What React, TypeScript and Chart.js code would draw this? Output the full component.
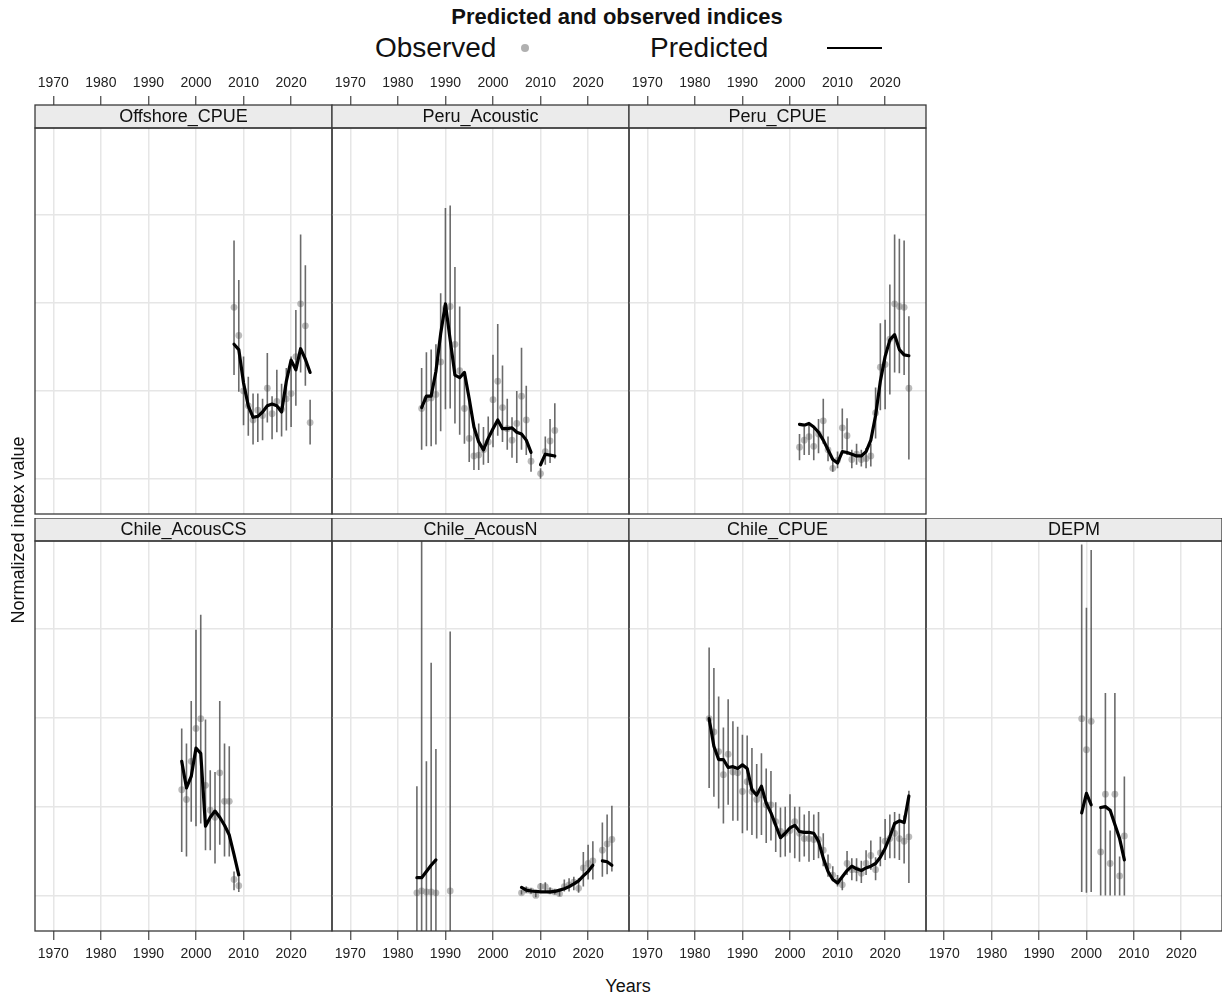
import React, { useEffect, useRef } from "react";
import { Chart, registerables } from "chart.js";

Chart.register(...registerables);

const FONT = "'Liberation Sans', Arial, Helvetica, sans-serif";

const X_MIN = 1966.15;
const X_MAX = 2028.6;
const Y_MIN = -0.4;
const Y_MAX = 3.99;
const X_TICK_STEP = 10;
const Y_GRID_STEP = 1;

// ---------- Offshore_CPUE ----------
const offshoreYears = [2008, 2009, 2010, 2011, 2012, 2013, 2014, 2015, 2016, 2017, 2018, 2019, 2020, 2021, 2022, 2023, 2024];
const offshoreObs = [1.95, 1.63, 1.0, 0.83, 0.67, 0.78, 0.72, 1.03, 0.74, 0.88, 0.79, 0.91, 0.97, 1.39, 1.99, 1.74, 0.64];
const offshoreLo = [1.18, 0.99, 0.61, 0.49, 0.39, 0.42, 0.44, 0.64, 0.45, 0.53, 0.48, 0.55, 0.59, 0.83, 1.21, 1.06, 0.39];
const offshoreHi = [2.71, 2.26, 1.39, 1.16, 0.97, 0.97, 0.91, 1.43, 0.94, 1.24, 1.08, 1.26, 1.39, 1.92, 2.78, 2.43, 0.9];
const offshorePredYears = offshoreYears;
const offshorePred = [1.53, 1.47, 1.09, 0.83, 0.7, 0.71, 0.76, 0.83, 0.85, 0.83, 0.76, 1.11, 1.35, 1.24, 1.48, 1.36, 1.21];

// ---------- Peru_Acoustic ----------
const peruAcYears = [1985, 1986, 1987, 1988, 1989, 1990, 1991, 1992, 1993, 1994, 1995, 1996, 1997, 1998, 1999, 2000, 2001, 2002, 2003, 2004, 2005, 2006, 2007, 2008, 2010, 2011, 2012, 2013];
const peruAcObs = [0.8, 0.91, 0.92, 0.96, 1.33, 1.94, 1.96, 1.53, 1.23, 0.8, 0.46, 0.26, 0.27, 0.33, 0.42, 0.9, 1.11, 0.81, 0.57, 0.44, 0.63, 0.94, 0.67, 0.2, 0.06, 0.31, 0.43, 0.55];
const peruAcLo = [0.33, 0.37, 0.37, 0.39, 0.54, 0.79, 0.8, 0.63, 0.5, 0.4, 0.19, 0.1, 0.1, 0.16, 0.18, 0.36, 0.49, 0.42, 0.33, 0.24, 0.18, 0.33, 0.27, 0.08, 0.0, 0.16, 0.18, 0.23];
const peruAcHi = [1.26, 1.44, 1.47, 1.53, 2.11, 3.08, 3.11, 2.41, 1.96, 1.21, 0.87, 0.64, 0.63, 0.59, 0.71, 1.41, 1.76, 1.29, 0.91, 0.7, 1.0, 1.49, 1.06, 0.31, 0.12, 0.48, 0.68, 0.86];
const peruAcPredYears = [1985, 1986, 1987, 1988, 1989, 1990, 1991, 1992, 1993, 1994, 1995, 1996, 1997, 1998, 1999, 2000, 2001, 2002, 2003, 2004, 2005, 2006, 2007, 2008, 2009, 2010, 2011, 2012, 2013];
const peruAcPred = [0.81, 0.94, 0.94, 1.22, 1.65, 1.99, 1.58, 1.18, 1.15, 1.21, 0.91, 0.59, 0.42, 0.33, 0.46, 0.57, 0.67, 0.57, 0.57, 0.58, 0.53, 0.51, 0.44, 0.3, null, 0.16, 0.28, 0.27, 0.26];

// ---------- Peru_CPUE ----------
const peruCpYears = [2002, 2003, 2004, 2005, 2006, 2007, 2008, 2009, 2010, 2011, 2012, 2013, 2014, 2015, 2016, 2017, 2018, 2019, 2020, 2021, 2022, 2023, 2024, 2025];
const peruCpObs = [0.36, 0.44, 0.48, 0.37, 0.51, 0.66, 0.33, 0.12, 0.21, 0.58, 0.49, 0.22, 0.28, 0.22, 0.23, 0.26, 0.75, 1.27, 1.3, 1.59, 1.99, 1.96, 1.95, 1.03];
const peruCpLo = [0.21, 0.27, 0.27, 0.21, 0.29, 0.4, 0.2, 0.08, 0.12, 0.33, 0.27, 0.12, 0.16, 0.14, 0.12, 0.14, 0.46, 0.78, 0.79, 0.96, 1.21, 1.2, 1.18, 0.22];
const peruCpHi = [0.51, 0.59, 0.63, 0.58, 0.68, 0.91, 0.48, 0.23, 0.31, 0.8, 0.69, 0.33, 0.4, 0.33, 0.35, 0.4, 1.04, 1.77, 1.81, 2.21, 2.78, 2.73, 2.71, 1.85];
const peruCpPredYears = peruCpYears;
const peruCpPred = [0.62, 0.61, 0.63, 0.59, 0.53, 0.44, 0.33, 0.22, 0.18, 0.31, 0.3, 0.28, 0.26, 0.26, 0.31, 0.44, 0.72, 1.11, 1.39, 1.58, 1.64, 1.47, 1.41, 1.4];

// ---------- Chile_AcousCS ----------
const chileCsYears = [1997, 1998, 1999, 2000, 2001, 2002, 2003, 2004, 2005, 2006, 2007, 2008, 2009];
const chileCsObs = [1.19, 1.08, 1.51, 1.88, 1.99, 1.24, 0.96, 0.88, 1.38, 1.06, 1.06, 0.18, 0.11];
const chileCsLo = [0.49, 0.44, 0.83, 0.78, 0.81, 0.51, 0.51, 0.36, 0.57, 0.44, 0.44, 0.06, 0.04];
const chileCsHi = [1.88, 1.71, 2.19, 2.99, 3.16, 1.98, 1.41, 1.39, 2.19, 1.71, 1.68, 0.27, 0.21];
const chileCsPredYears = chileCsYears;
const chileCsPred = [1.51, 1.21, 1.34, 1.66, 1.6, 0.78, 0.88, 0.95, 0.88, 0.79, 0.68, 0.46, 0.23];

// ---------- Chile_AcousN ----------
const chileNYears = [1984, 1985, 1986, 1987, 1988, 1991, 2006, 2007, 2008, 2009, 2010, 2011, 2012, 2013, 2014, 2015, 2016, 2017, 2018, 2019, 2020, 2021, 2023, 2024, 2025];
const chileNObs = [0.03, 0.05, 0.04, 0.04, 0.03, 0.05, 0.03, 0.06, 0.05, 0.0, 0.1, 0.1, 0.05, 0.04, 0.02, 0.1, 0.12, 0.15, 0.08, 0.31, 0.36, 0.39, 0.51, 0.58, 0.63];
const chileNLo = [-1.17, -4.9, -1.45, -2.56, -1.59, -2.91, 0.01, 0.03, 0.02, -0.02, 0.05, 0.05, 0.02, 0.01, -0.01, 0.045, 0.045, 0.06, 0.03, 0.1, 0.18, 0.18, 0.21, 0.24, 0.27];
const chileNHi = [1.23, 5.0, 1.51, 2.62, 1.65, 2.97, 0.06, 0.1, 0.08, 0.03, 0.14, 0.15, 0.09, 0.07, 0.05, 0.18, 0.195, 0.21, 0.195, 0.49, 0.57, 0.61, 0.82, 0.91, 1.01];
const chileNPredYears = [1984, 1985, 1986, 1987, 1988, 1989, 2006, 2007, 2008, 2009, 2010, 2011, 2012, 2013, 2014, 2015, 2016, 2017, 2018, 2019, 2020, 2021, 2022, 2023, 2024, 2025];
const chileNPred = [0.2, 0.2, 0.27, 0.34, 0.4, null, 0.09, 0.06, 0.05, 0.045, 0.04, 0.04, 0.04, 0.045, 0.06, 0.075, 0.1, 0.13, 0.165, 0.22, 0.27, 0.34, null, 0.39, 0.38, 0.34];

// ---------- Chile_CPUE ----------
const chileCpYears = [1983, 1984, 1985, 1986, 1987, 1988, 1989, 1990, 1991, 1992, 1993, 1994, 1995, 1996, 1997, 1998, 1999, 2000, 2001, 2002, 2003, 2004, 2005, 2006, 2007, 2008, 2009, 2010, 2011, 2012, 2013, 2014, 2015, 2016, 2017, 2018, 2019, 2020, 2021, 2022, 2023, 2024, 2025];
const chileCpObs = [1.99, 1.84, 1.62, 1.36, 1.59, 1.39, 1.38, 1.17, 1.28, 1.17, 1.08, 1.13, 1.02, 1.02, 0.83, 0.72, 0.7, 0.73, 0.83, 0.7, 0.64, 0.64, 0.63, 0.63, 0.51, 0.33, 0.23, 0.16, 0.12, 0.36, 0.29, 0.29, 0.25, 0.36, 0.45, 0.29, 0.48, 0.61, 0.64, 0.7, 0.64, 0.61, 0.66];
const chileCpLo = [1.21, 1.11, 0.98, 0.81, 1.02, 0.84, 0.84, 0.7, 0.73, 0.68, 0.64, 0.68, 0.59, 0.62, 0.49, 0.43, 0.44, 0.48, 0.42, 0.38, 0.44, 0.38, 0.4, 0.42, 0.33, 0.21, 0.16, 0.1, 0.06, 0.23, 0.17, 0.16, 0.14, 0.23, 0.29, 0.17, 0.33, 0.4, 0.42, 0.42, 0.4, 0.36, 0.14];
const chileCpHi = [2.79, 2.56, 2.24, 1.89, 2.21, 1.96, 1.9, 1.81, 1.8, 1.66, 1.48, 1.6, 1.43, 1.4, 1.05, 0.99, 1.0, 1.14, 1.0, 1.0, 0.91, 0.95, 0.91, 0.94, 0.7, 0.46, 0.33, 0.23, 0.21, 0.5, 0.42, 0.42, 0.39, 0.51, 0.62, 0.43, 0.66, 0.86, 0.91, 0.94, 0.92, 0.9, 1.18];
const chileCpPredYears = chileCpYears;
const chileCpPred = [1.99, 1.68, 1.53, 1.53, 1.44, 1.45, 1.43, 1.47, 1.43, 1.19, 1.13, 1.23, 1.04, 0.93, 0.79, 0.65, 0.7, 0.76, 0.79, 0.72, 0.71, 0.71, 0.7, 0.61, 0.42, 0.27, 0.18, 0.14, 0.21, 0.28, 0.33, 0.3, 0.28, 0.31, 0.33, 0.36, 0.43, 0.53, 0.66, 0.81, 0.84, 0.82, 1.12];

// ---------- DEPM ----------
const depmYears = [1999, 2000, 2001, 2003, 2004, 2005, 2006, 2007, 2008];
const depmObs = [1.99, 1.64, 1.96, 0.49, 1.14, 0.36, 1.14, 0.22, 0.67];
const depmLo = [0.04, 0.03, 0.04, 0.0, 0.0, 0.0, 0.0, 0.0, 0.0];
const depmHi = [3.95, 3.24, 3.89, 1.0, 2.28, 0.73, 2.28, 0.44, 1.34];
const depmPredYears = [1999, 2000, 2001, 2002, 2003, 2004, 2005, 2006, 2007, 2008];
const depmPred = [0.93, 1.15, 1.02, null, 0.99, 1.0, 0.96, 0.8, 0.64, 0.4];

type PanelDef = {
  name: string;
  years: number[];
  obs: number[];
  lo: number[];
  hi: number[];
  predYears: number[];
  pred: (number | null)[];
  col: number;
  row: "top" | "bottom";
};

const PANELS: PanelDef[] = [
  { name: "Offshore_CPUE", years: offshoreYears, obs: offshoreObs, lo: offshoreLo, hi: offshoreHi, predYears: offshorePredYears, pred: offshorePred, col: 0, row: "top" },
  { name: "Peru_Acoustic", years: peruAcYears, obs: peruAcObs, lo: peruAcLo, hi: peruAcHi, predYears: peruAcPredYears, pred: peruAcPred, col: 1, row: "top" },
  { name: "Peru_CPUE", years: peruCpYears, obs: peruCpObs, lo: peruCpLo, hi: peruCpHi, predYears: peruCpPredYears, pred: peruCpPred, col: 2, row: "top" },
  { name: "Chile_AcousCS", years: chileCsYears, obs: chileCsObs, lo: chileCsLo, hi: chileCsHi, predYears: chileCsPredYears, pred: chileCsPred, col: 0, row: "bottom" },
  { name: "Chile_AcousN", years: chileNYears, obs: chileNObs, lo: chileNLo, hi: chileNHi, predYears: chileNPredYears, pred: chileNPred, col: 1, row: "bottom" },
  { name: "Chile_CPUE", years: chileCpYears, obs: chileCpObs, lo: chileCpLo, hi: chileCpHi, predYears: chileCpPredYears, pred: chileCpPred, col: 2, row: "bottom" },
  { name: "DEPM", years: depmYears, obs: depmObs, lo: depmLo, hi: depmHi, predYears: depmPredYears, pred: depmPred, col: 3, row: "bottom" },
];

// ---------- layout ----------
const COL_LEFT = [35, 332, 629, 926];
const COL_WIDTH = [297, 297, 297, 296];
const MARGIN = 8;
const STRIP_H = 23;
const TOP_CANVAS_TOP = 60;
const TOP_PLOT_TOP = 128;
const TOP_PLOT_BOTTOM = 518;
const BOT_STRIP_TOP = 518;
const BOT_PLOT_BOTTOM = 931;
const BOT_AXIS_H = 40;

const panelDeco = {
  id: "panelDeco",
  afterDraw(chart: any, _args: any, opts: any) {
    const { ctx, chartArea: a } = chart;
    ctx.save();
    const sy = a.top - STRIP_H;
    ctx.fillStyle = "#ebebeb";
    ctx.fillRect(a.left, sy, a.right - a.left, STRIP_H);
    ctx.strokeStyle = "#3a3a3a";
    ctx.lineWidth = 1.3;
    ctx.strokeRect(a.left, sy, a.right - a.left, STRIP_H);
    ctx.strokeRect(a.left, a.top, a.right - a.left, a.bottom - a.top);
    ctx.fillStyle = "#111";
    ctx.font = `18px ${FONT}`;
    ctx.textAlign = "center";
    ctx.textBaseline = "middle";
    ctx.fillText(opts.label, (a.left + a.right) / 2, sy + STRIP_H / 2 + 1);
    ctx.restore();
  },
};

function PanelChart({ p }: { p: PanelDef }) {
  const ref = useRef<HTMLCanvasElement>(null);
  const isTop = p.row === "top";
  const left = COL_LEFT[p.col] - MARGIN;
  const width = COL_WIDTH[p.col] + 2 * MARGIN;
  const top = isTop ? TOP_CANVAS_TOP : BOT_STRIP_TOP;
  const height = isTop ? TOP_PLOT_BOTTOM - TOP_CANVAS_TOP : BOT_PLOT_BOTTOM + BOT_AXIS_H - BOT_STRIP_TOP;

  useEffect(() => {
    if (!ref.current) return;
    const errData: { x: number; y: number | null }[] = [];
    p.years.forEach((yr, i) => {
      errData.push({ x: yr, y: p.lo[i] }, { x: yr, y: p.hi[i] }, { x: yr, y: null });
    });
    const obsData = p.years.map((yr, i) => ({ x: yr, y: p.obs[i] }));
    const predData = p.predYears.map((yr, i) => ({ x: yr, y: p.pred[i] }));

    const chart = new Chart(ref.current, {
      type: "line",
      data: {
        datasets: [
          {
            data: predData as any,
            borderColor: "#000",
            borderWidth: 3.2,
            pointRadius: 0,
            tension: 0,
            borderJoinStyle: "round",
            borderCapStyle: "round",
            order: 0,
          },
          {
            data: errData as any,
            borderColor: "rgba(70,70,70,0.8)",
            borderWidth: 1.6,
            pointRadius: 0,
            tension: 0,
            order: 1,
          },
          {
            data: obsData as any,
            showLine: false,
            pointRadius: 3.4,
            pointBorderWidth: 0,
            pointBackgroundColor: "rgba(150,150,150,0.65)",
            order: 2,
          },
        ],
      },
      options: {
        responsive: false,
        animation: false,
        events: [],
        layout: { padding: { left: MARGIN, right: MARGIN, top: isTop ? 0 : STRIP_H, bottom: 0 } },
        plugins: {
          legend: { display: false },
          tooltip: { enabled: false },
          title: { display: false },
          panelDeco: { label: p.name },
        } as any,
        scales: {
          x: {
            type: "linear",
            position: isTop ? "top" : "bottom",
            min: X_MIN,
            max: X_MAX,
            afterFit: (s: any) => {
              s.height = isTop ? TOP_PLOT_TOP - TOP_CANVAS_TOP : BOT_AXIS_H;
            },
            ticks: {
              stepSize: X_TICK_STEP,
              includeBounds: false,
              autoSkip: false,
              maxRotation: 0,
              minRotation: 0,
              padding: isTop ? 4 : 6,
              color: "#222",
              font: { family: FONT, size: 14 },
              callback: (v: any) => String(v),
            },
            grid: {
              color: "#e6e6e6",
              lineWidth: 1.5,
              tickLength: isTop ? 32 : 9,
              tickColor: "#444",
              tickWidth: 1.2,
            },
            border: { display: false },
          },
          y: {
            type: "linear",
            min: Y_MIN,
            max: Y_MAX,
            ticks: { display: false, stepSize: Y_GRID_STEP, includeBounds: false },
            grid: { color: "#e6e6e6", lineWidth: 1.5, drawTicks: false },
            border: { display: false },
          },
        },
      } as any,
      plugins: [panelDeco],
    });
    return () => chart.destroy();
  }, []);

  return (
    <canvas
      ref={ref}
      width={width}
      height={height}
      style={{ position: "absolute", left, top, width, height }}
    />
  );
}

export default function App() {
  const text: React.CSSProperties = { position: "absolute", fontFamily: FONT, color: "#111", whiteSpace: "nowrap" };
  return (
    <div
      style={{
        position: "absolute",
        left: 0,
        top: 0,
        width: 1222,
        height: 997,
        overflow: "hidden",
        background: "#fff",
        fontFamily: FONT,
      }}
    >
      <div style={{ ...text, left: 317, width: 600, top: 4, lineHeight: "26px", fontSize: 22, fontWeight: "bold", textAlign: "center" }}>
        Predicted and observed indices
      </div>
      <div style={{ ...text, left: 375, top: 32, lineHeight: "32px", fontSize: 28 }}>Observed</div>
      <div
        style={{
          position: "absolute",
          left: 521,
          top: 44,
          width: 8,
          height: 8,
          borderRadius: "50%",
          background: "rgba(150,150,150,0.75)",
        }}
      />
      <div style={{ ...text, left: 650, top: 32, lineHeight: "32px", fontSize: 28 }}>Predicted</div>
      <div style={{ position: "absolute", left: 827, top: 47, width: 55, height: 2, background: "#000" }} />

      {PANELS.map((p) => (
        <PanelChart key={p.name} p={p} />
      ))}

      <div
        style={{
          ...text,
          left: 18 - 150,
          top: 530 - 12,
          width: 300,
          lineHeight: "24px",
          fontSize: 18,
          textAlign: "center",
          transform: "rotate(-90deg)",
        }}
      >
        Normalized index value
      </div>
      <div style={{ ...text, left: 528, width: 200, top: 974, lineHeight: "24px", fontSize: 18, textAlign: "center" }}>
        Years
      </div>
    </div>
  );
}
